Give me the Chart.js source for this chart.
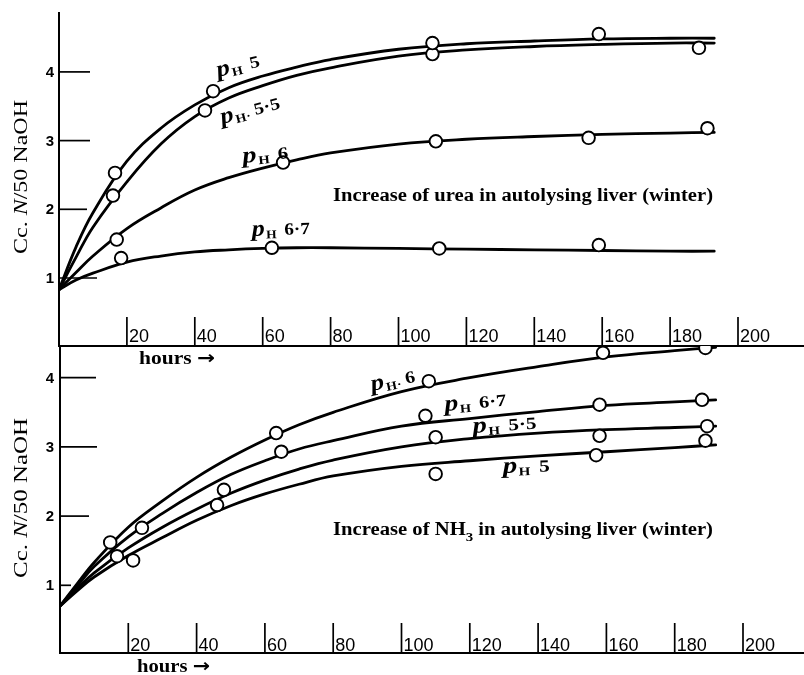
<!DOCTYPE html>
<html><head><meta charset="utf-8">
<script src="https://cdn.jsdelivr.net/npm/chart.js@4.4.0/dist/chart.umd.min.js"></script>
<style>
html,body{margin:0;padding:0;background:#fff;width:804px;height:675px;overflow:hidden}
canvas{position:absolute;left:0;top:0}
</style></head><body>
<canvas id="c1" width="804" height="675"></canvas>
<canvas id="c2" width="804" height="675"></canvas>
<script>
// ---------- DATA ----------
const xTicks = [20, 40, 60, 80, 100, 120, 140, 160, 180, 200];
const yTicks = [1, 2, 3, 4];

// Top panel: urea
const ureaHours = [0, 5, 10, 20, 30, 40, 50, 60, 70, 80, 100, 120, 140, 160, 180, 193];
const ureaPH5   = [0.83, 1.45, 1.95, 2.70, 3.18, 3.52, 3.77, 3.94, 4.07, 4.18, 4.33, 4.41, 4.45, 4.48, 4.49, 4.49];
const ureaPH55  = [0.83, 1.30, 1.74, 2.40, 2.95, 3.35, 3.62, 3.80, 3.95, 4.06, 4.23, 4.32, 4.37, 4.40, 4.42, 4.42];
const ureaPH6   = [0.83, 1.08, 1.32, 1.72, 2.02, 2.28, 2.46, 2.60, 2.72, 2.82, 2.95, 3.02, 3.06, 3.09, 3.11, 3.12];
const ureaPH67  = [0.83, 0.97, 1.07, 1.23, 1.32, 1.38, 1.41, 1.43, 1.44, 1.44, 1.43, 1.42, 1.41, 1.40, 1.39, 1.39];
const ureaObsPH5  = [[16.5, 2.53], [45.4, 3.72], [110, 4.42], [159, 4.55]];
const ureaObsPH55 = [[15.9, 2.20], [43, 3.44], [110, 4.26], [188.5, 4.35]];
const ureaObsPH6  = [[17, 1.56], [66, 2.68], [111, 2.99], [156, 3.04], [191, 3.18]];
const ureaObsPH67 = [[18.3, 1.29], [62.7, 1.44], [112, 1.43], [159, 1.48]];

// Bottom panel: NH3
const nh3Hours = [0, 5, 10, 20, 30, 40, 50, 60, 70, 80, 100, 120, 140, 160, 180, 192];
const nh3PH6   = [0.70, 1.02, 1.33, 1.84, 2.22, 2.56, 2.85, 3.10, 3.32, 3.50, 3.80, 4.00, 4.16, 4.30, 4.39, 4.44];
const nh3PH67  = [0.70, 0.99, 1.27, 1.70, 2.04, 2.34, 2.60, 2.80, 2.97, 3.09, 3.30, 3.41, 3.51, 3.60, 3.65, 3.68];
const nh3PH55  = [0.70, 0.95, 1.18, 1.54, 1.84, 2.10, 2.33, 2.52, 2.68, 2.81, 3.00, 3.12, 3.20, 3.25, 3.28, 3.30];
const nh3PH5   = [0.70, 0.92, 1.12, 1.43, 1.69, 1.94, 2.15, 2.32, 2.46, 2.58, 2.72, 2.80, 2.87, 2.93, 2.99, 3.03];
const nh3ObsPH6  = [[14.7, 1.62], [63.3, 3.20], [108, 3.95], [159, 4.36], [189, 4.43]];
const nh3ObsPH67 = [[24, 1.83], [64.8, 2.93], [107, 3.45], [158, 3.61], [188, 3.68]];
const nh3ObsPH55 = [[16.7, 1.42], [48, 2.38], [110, 3.14], [158, 3.16], [189.5, 3.30]];
const nh3ObsPH5  = [[21.4, 1.36], [46, 2.16], [110, 2.61], [157, 2.88], [189, 3.09]];

const topTitle = 'Increase of urea in autolysing liver (winter)';
const yTitle = ['Cc. ', 'N', '/50 NaOH'];
const xTitle = ['hours ', '\u2192'];

// ---------- HELPERS ----------
const SERIF = '"Liberation Serif", "DejaVu Serif", serif';
const SANS = '"Liberation Sans", "DejaVu Sans", sans-serif';

function drawRuns(ctx, runs, x, y, angleDeg, fitWidth) {
  ctx.save();
  let total = 0;
  runs.forEach(r => { ctx.font = r.font; r.w = ctx.measureText(r.t).width; total += r.w + (r.gap || 0); });
  ctx.translate(x, y);
  ctx.rotate(angleDeg * Math.PI / 180);
  if (fitWidth) ctx.scale(fitWidth / total, 1);
  ctx.textAlign = 'left';
  ctx.textBaseline = 'alphabetic';
  ctx.fillStyle = '#000';
  let cx = 0;
  runs.forEach(r => { cx += (r.gap || 0); ctx.font = r.font; ctx.fillText(r.t, cx, r.dy || 0); cx += r.w; });
  ctx.restore();
}
function phRuns(num, dot) {
  return [
    { t: 'p', font: 'italic bold 23px ' + SERIF },
    { t: dot ? 'H\u00B7' : 'H', font: 'bold 12px ' + SERIF, dy: 3, gap: 1 },
    { t: num, font: 'bold 17px ' + SERIF, gap: dot ? 4 : 7 }
  ];
}

function makeDecor(opts) {
  return {
    id: 'decor',
    afterDraw(chart) {
      const ctx = chart.ctx, xs = chart.scales.x, ys = chart.scales.y;
      const x0 = xs.getPixelForValue(0);
      ctx.save();
      ctx.strokeStyle = '#000'; ctx.fillStyle = '#000';
      // axes
      ctx.lineWidth = 2;
      ctx.beginPath();
      ctx.moveTo(x0, opts.axisTop); ctx.lineTo(x0, opts.axisY);
      ctx.moveTo(x0 - 1, opts.axisY); ctx.lineTo(chart.width, opts.axisY);
      ctx.stroke();
      // x ticks inside the plot, labels to the right of each tick
      ctx.lineWidth = 1.7;
      xTicks.forEach(v => {
        const px = xs.getPixelForValue(v);
        ctx.beginPath(); ctx.moveTo(px, opts.axisY - opts.xTickLen); ctx.lineTo(px, opts.axisY); ctx.stroke();
        ctx.font = '18px ' + SANS;
        ctx.textAlign = 'left'; ctx.textBaseline = 'alphabetic';
        ctx.fillText(String(v), px + 2, opts.xLabelBase);
      });
      // y ticks inside, labels outside
      yTicks.forEach((v, i) => {
        const py = ys.getPixelForValue(v);
        ctx.beginPath(); ctx.moveTo(x0, py); ctx.lineTo(x0 + opts.yTickLen[i], py); ctx.stroke();
        ctx.font = 'bold 15px ' + SANS;
        ctx.textAlign = 'right'; ctx.textBaseline = 'middle';
        ctx.fillText(String(v), 54, py + 1);
      });
      ctx.restore();
      // axis titles
      drawRuns(ctx, [
        { t: yTitle[0], font: '19px ' + SERIF },
        { t: yTitle[1], font: 'italic 19px ' + SERIF },
        { t: yTitle[2], font: '19px ' + SERIF }
      ], 27, opts.yTitleStart, -90, opts.yTitleWidth);
      drawRuns(ctx, [
        { t: xTitle[0], font: 'bold 18px ' + SERIF },
        { t: xTitle[1], font: 'bold 18px "DejaVu Sans", sans-serif' }
      ], opts.xTitleX, opts.xTitleBase, 0, opts.xTitleWidth);
      // panel title
      drawRuns(ctx, opts.titleRuns, 333, opts.titleBase, 0, 380);
      // curve labels
      opts.labels.forEach(l => drawRuns(ctx, phRuns(l.num, l.dot), l.x, l.y, l.a, l.w));
    }
  };
}

function curve(hours, vals) { return hours.map((h, i) => ({ x: h, y: vals[i] })); }
function obs(arr) { return arr.map(p => ({ x: p[0], y: p[1] })); }
function lineDs(data) {
  return { data, showLine: true, borderColor: '#000', borderWidth: 2.8, pointRadius: 0,
           tension: 0.4, fill: false, order: 2, borderCapStyle: 'round' };
}
function ptDs(data) {
  return { data, showLine: false, pointRadius: 6.3, pointBorderWidth: 1.9, pointBorderColor: '#000',
           pointBackgroundColor: '#fff', order: 1 };
}

function makeChart(id, datasets, pad, yMax, decor) {
  return new Chart(document.getElementById(id), {
    type: 'scatter',
    data: { datasets },
    options: {
      responsive: false, animation: false, devicePixelRatio: 1,
      layout: { padding: pad },
      plugins: { legend: { display: false }, tooltip: { enabled: false } },
      scales: {
        x: { type: 'linear', min: 0, max: 200, display: false },
        y: { type: 'linear', min: 0, max: yMax, display: false }
      }
    },
    plugins: [decor]
  });
}

// ---------- TOP CHART ----------
makeChart('c1', [
  lineDs(curve(ureaHours, ureaPH5)), lineDs(curve(ureaHours, ureaPH55)),
  lineDs(curve(ureaHours, ureaPH6)), lineDs(curve(ureaHours, ureaPH67)),
  ptDs(obs(ureaObsPH5)), ptDs(obs(ureaObsPH55)), ptDs(obs(ureaObsPH6)), ptDs(obs(ureaObsPH67))
], { left: 59, right: 66, top: 12, bottom: 328.3 }, 4.872, makeDecor({
  axisTop: 12, axisY: 346, xTickLen: 29, xLabelBase: 342, yTickLen: [38, 28, 31, 31],
  yTitleStart: 254, yTitleWidth: 154, xTitleX: 139, xTitleBase: 364, xTitleWidth: 76, titleBase: 201,
  titleRuns: [{ t: topTitle, font: 'bold 18px ' + SERIF }],
  labels: [
    { num: '5', x: 218, y: 77, a: -14, w: 44 },
    { num: '5\u00B75', x: 222, y: 124, a: -15, w: 61, dot: true },
    { num: '6', x: 243, y: 163, a: -6, w: 46 },
    { num: '6\u00B77', x: 252, y: 236, a: -2, w: 58 }
  ]
}));

// ---------- BOTTOM CHART ----------
makeChart('c2', [
  lineDs(curve(nh3Hours, nh3PH6)), lineDs(curve(nh3Hours, nh3PH67)),
  lineDs(curve(nh3Hours, nh3PH55)), lineDs(curve(nh3Hours, nh3PH5)),
  ptDs(obs(nh3ObsPH6)), ptDs(obs(nh3ObsPH67)), ptDs(obs(nh3ObsPH55)), ptDs(obs(nh3ObsPH5))
], { left: 60, right: 61, top: 346, bottom: 20.5 }, 4.458, makeDecor({
  axisTop: 346, axisY: 653, xTickLen: 30, xLabelBase: 651, yTickLen: [11, 29, 37, 36],
  yTitleStart: 578, yTitleWidth: 160, xTitleX: 137, xTitleBase: 672, xTitleWidth: 73, titleBase: 535,
  titleRuns: [
    { t: 'Increase of NH', font: 'bold 18px ' + SERIF },
    { t: '3', font: 'bold 13px ' + SERIF, dy: 6 },
    { t: ' in autolysing liver (winter)', font: 'bold 18px ' + SERIF }
  ],
  labels: [
    { num: '6', x: 372, y: 391, a: -12, w: 45, dot: true },
    { num: '6\u00B77', x: 445, y: 411, a: -5, w: 62 },
    { num: '5\u00B75', x: 473, y: 433, a: -4, w: 64 },
    { num: '5', x: 503, y: 473, a: -2, w: 47 }
  ]
}));
</script>
</body></html>
